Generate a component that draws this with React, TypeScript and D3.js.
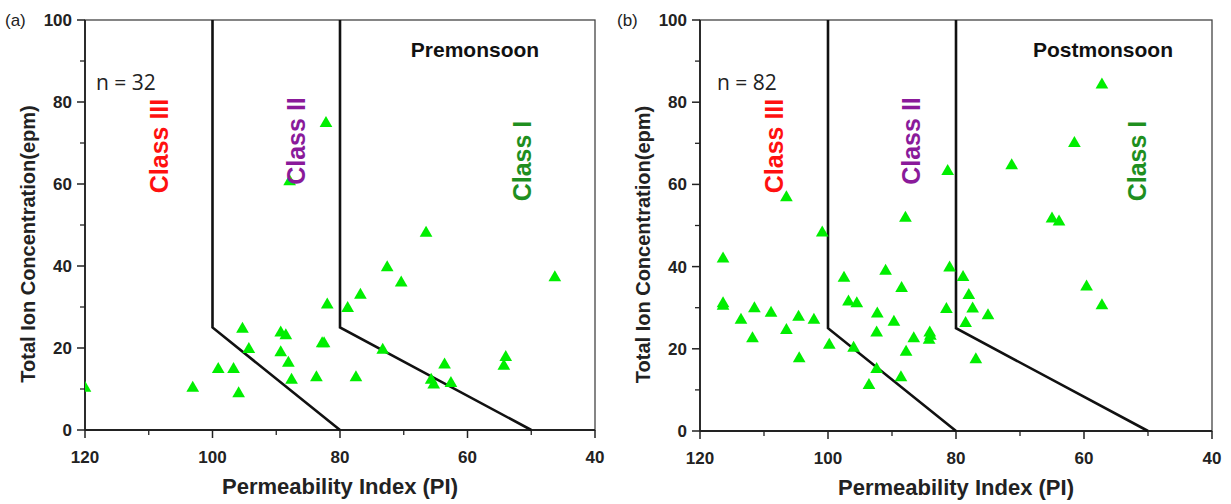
import React from "react"
import * as d3 from "d3"

// Premonsoon (a)
const preX = [120, 103.1, 99.1, 96.7, 95.9, 95.3, 94.3, 89.3, 88.5, 89.3, 88.1, 87.6, 87.9, 82.2, 83.7, 82.8, 82.5, 82.0, 78.8, 77.5, 76.8, 73.3, 72.6, 70.4, 66.5, 65.7, 65.3, 63.6, 62.6, 54.3, 54.0, 46.3]
const preY = [10.2, 10.2, 14.8, 14.8, 8.9, 24.6, 19.7, 23.7, 23.0, 18.9, 16.3, 12.2, 60.6, 74.8, 12.8, 21.1, 21.1, 30.5, 29.7, 12.8, 32.9, 19.5, 39.6, 35.9, 48.0, 12.2, 11.0, 15.9, 11.4, 15.6, 17.7, 37.2]

// Postmonsoon (b)
const postX = [116.4, 116.4, 116.4, 113.6, 111.8, 111.5, 108.9, 106.5, 106.5, 104.6, 104.5, 102.2, 100.9, 99.8, 97.5, 96.8, 95.5, 96.0, 93.6, 92.4, 92.4, 92.3, 91.0, 89.7, 88.6, 88.5, 87.9, 87.8, 86.6, 84.2, 84.1, 84.0, 81.5, 81.3, 81.0, 78.9, 78.5, 78.0, 77.4, 76.9, 75.0, 71.3, 65.0, 63.9, 61.5, 59.6, 57.2, 57.2]
const postY = [41.9, 31.0, 30.4, 27.0, 22.5, 29.8, 28.7, 56.8, 24.5, 27.7, 17.6, 27.0, 48.2, 20.9, 37.2, 31.4, 31.0, 20.2, 11.1, 15.0, 23.9, 28.5, 38.9, 26.5, 13.0, 34.7, 51.8, 19.2, 22.5, 22.1, 23.9, 23.1, 29.6, 63.2, 39.7, 37.4, 26.2, 33.0, 29.7, 17.4, 28.1, 64.6, 51.6, 50.9, 70.0, 35.1, 84.2, 30.5]

// class boundaries (PI, epm)
const boundaryA = [[100, 100], [100, 25], [80, 0]]
const boundaryB = [[80, 100], [80, 25], [50, 0]]

const xTicks = [120, 100, 80, 60, 40]
const xMinor = [110, 90, 70, 50]
const yTicks = [0, 20, 40, 60, 80, 100]
const yMinor = [10, 30, 50, 70, 90]

const classLabels = ["Class III", "Class II", "Class I"]
const classColors = ["#ff1010", "#8a1a9a", "#1f8f1f"]
const classDx = [83, 220, 446]
const classY = [146, 141, 161]

const sans = "'Liberation Sans', Arial, sans-serif"

const Panel = ({ id, x0, x1, y0, y1, xs, ys, tag, season, n, tagX, seasonX, nX }) => {
  const x = d3.scaleLinear().domain([120, 40]).range([x0, x1])
  const y = d3.scaleLinear().domain([0, 100]).range([y0, y1])
  const line = d3.line().x(d => x(d[0])).y(d => y(d[1]))
  const tri = d3.symbol().type(d3.symbolTriangle).size(70)()
  const mid = (x0 + x1) / 2
  return (
    <g>
      <defs>
        <clipPath id={"clip-" + id}>
          <rect x={x0} y={y1} width={x1 - x0} height={y0 - y1} />
        </clipPath>
      </defs>
      <text x={tagX} y={y1 + 6} fontFamily={sans} fontSize={17} fill="#222">{tag}</text>
      {/* frame */}
      <rect x={x0} y={y1} width={x1 - x0} height={y0 - y1} fill="none" stroke="#444" strokeWidth={1.3} />
      <line x1={x0} x2={x0} y1={y0} y2={y1} stroke="#222" strokeWidth={1.8} />
      <line x1={x0} x2={x1} y1={y0} y2={y0} stroke="#222" strokeWidth={1.8} />
      {xTicks.map(t => (
        <g key={"xt" + t}>
          <line x1={x(t)} x2={x(t)} y1={y0} y2={y0 + 8} stroke="#222" strokeWidth={1.5} />
          <text x={x(t)} y={y0 + 33} textAnchor="middle" fontFamily={sans} fontWeight="bold" fontSize={17} fill="#222">{t}</text>
        </g>
      ))}
      {xMinor.map(t => (
        <line key={"xm" + t} x1={x(t)} x2={x(t)} y1={y0} y2={y0 + 5} stroke="#222" strokeWidth={1.3} />
      ))}
      {yTicks.map(t => (
        <g key={"yt" + t}>
          <line x1={x0 - 8} x2={x0} y1={y(t)} y2={y(t)} stroke="#222" strokeWidth={1.5} />
          <text x={x0 - 13} y={y(t) + 6} textAnchor="end" fontFamily={sans} fontWeight="bold" fontSize={17} fill="#222">{t}</text>
        </g>
      ))}
      {yMinor.map(t => (
        <line key={"ym" + t} x1={x0 - 5} x2={x0} y1={y(t)} y2={y(t)} stroke="#222" strokeWidth={1.3} />
      ))}
      <text x={mid} y={y0 + 64} textAnchor="middle" fontFamily={sans} fontWeight="bold" fontSize={22} fill="#222">Permeability Index (PI)</text>
      <text transform={`translate(${x0 - 50},${(y0 + y1) / 2 + 19}) rotate(-90)`} textAnchor="middle" fontFamily={sans} fontWeight="bold" fontSize={20} fill="#222">Total Ion Concentration(epm)</text>
      {[boundaryA, boundaryB].map((b, i) => (
        <path key={"b" + i} d={line(b)} fill="none" stroke="#111" strokeWidth={2.6} />
      ))}
      <g clipPath={`url(#clip-${id})`}>
        {xs.map((v, i) => (
          <path key={"p" + i} d={tri} transform={`translate(${x(v)},${y(ys[i])})`} fill="#00ee00" />
        ))}
      </g>
      {classLabels.map((c, i) => (
        <text key={c} transform={`translate(${x0 + classDx[i]},${classY[i]}) rotate(-90)`} textAnchor="middle" fontFamily={sans} fontWeight="bold" fontSize={25} fill={classColors[i]}>{c}</text>
      ))}
      <text x={seasonX} y={57} textAnchor="middle" fontFamily={sans} fontWeight="bold" fontSize={21} fill="#111">{season}</text>
      <text x={nX} y={90} fontFamily="'Open Sans', sans-serif" fontSize={21} fill="#222">n = {n}</text>
    </g>
  )
}

const App = () => {
  return (
    <svg width={1231} height={504} style={{ position: "absolute", left: 0, top: 0, background: "#fff" }}>
      <Panel id="a" x0={85} x1={595} y0={430} y1={20} xs={preX} ys={preY} tag="(a)" tagX={5} season="Premonsoon" n={32} seasonX={475} nX={96} />
      <Panel id="b" x0={700} x1={1212} y0={431} y1={20} xs={postX} ys={postY} tag="(b)" tagX={617} season="Postmonsoon" n={82} seasonX={1103} nX={717} />
    </svg>
  )
}

export default App
